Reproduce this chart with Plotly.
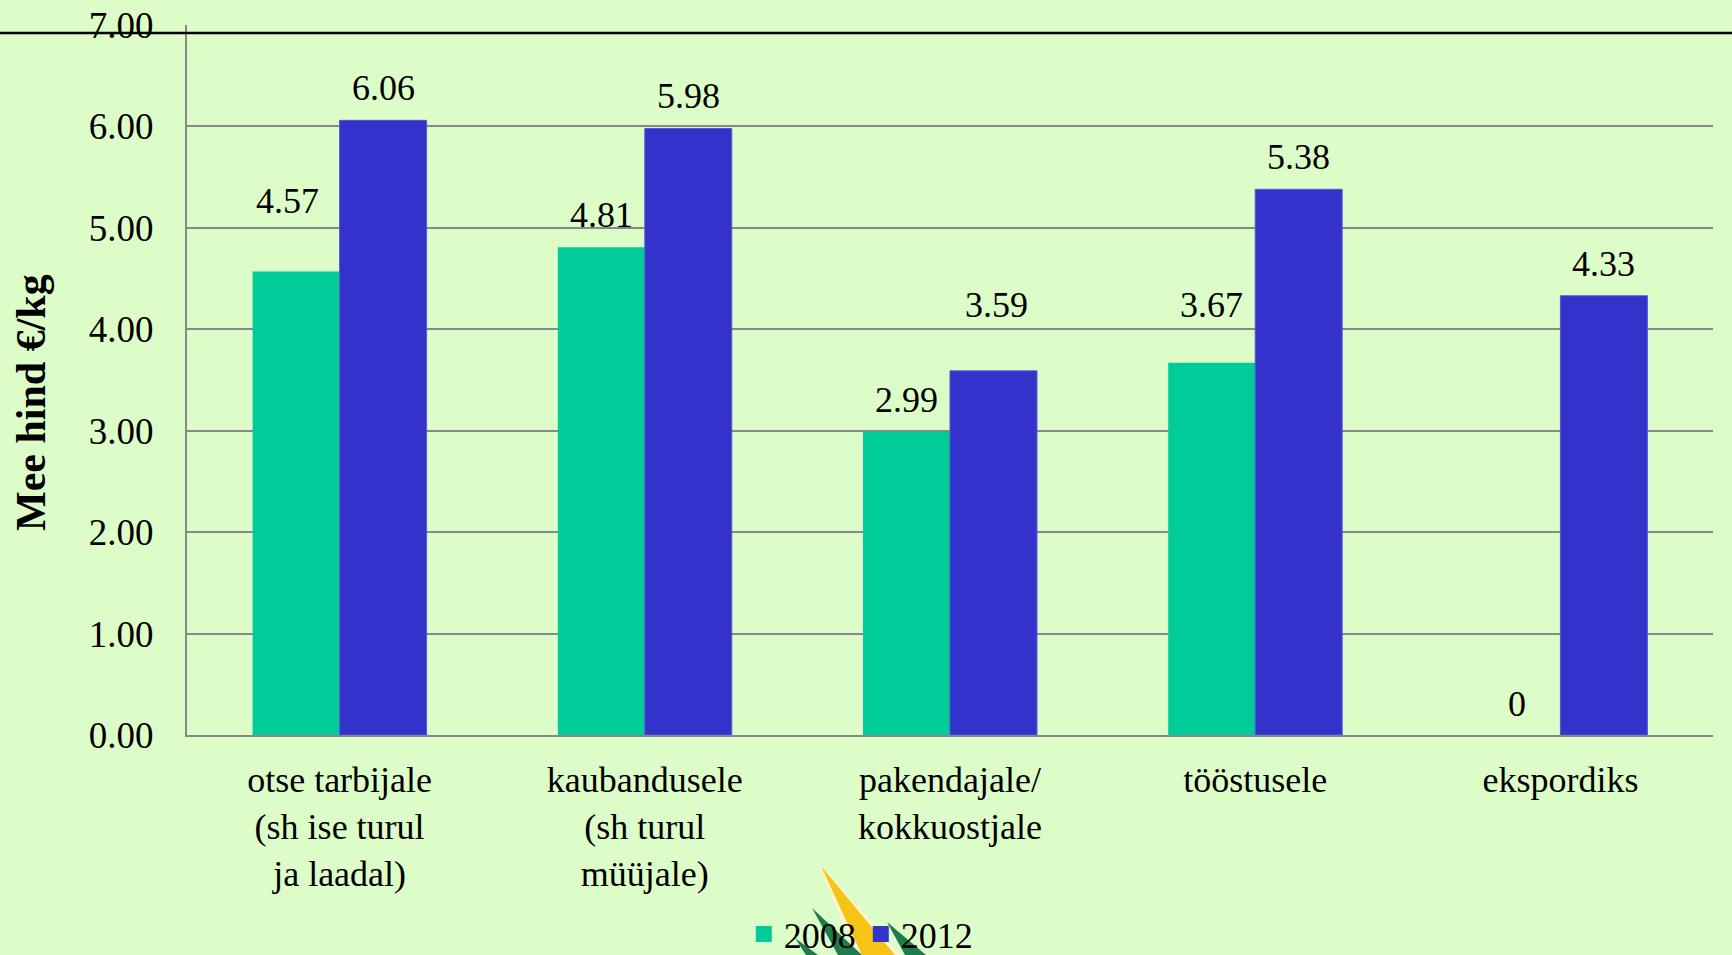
import plotly.graph_objects as go

categories = [
    "otse tarbijale<br>(sh ise turul<br>ja laadal)",
    "kaubandusele<br>(sh turul<br>müüjale)",
    "pakendajale/<br>kokkuostjale",
    "tööstusele",
    "ekspordiks",
]
values_2008 = [4.57, 4.81, 2.99, 3.67, 0]
values_2012 = [6.06, 5.98, 3.59, 5.38, 4.33]
labels_2008 = ["4.57", "4.81", "2.99", "3.67", "0"]
labels_2012 = ["6.06", "5.98", "3.59", "5.38", "4.33"]
tick_vals = [0, 1, 2, 3, 4, 5, 6, 7]

# label offsets (px) as placed in the original chart
lift_2008 = [70, 32, 32, 58, 31]
lift_2012 = [32, 32, 66, 32, 32]
nudge_2008 = [-9, 0, 0, 0, 0]
nudge_2012 = [0, 0, 3, 0, 0]

GREEN = "#00CC99"
BLUE = "#3333CC"
BG = "#DDFDC8"
FONT = "Liberation Serif"

W, H = 1732, 955
L, R, T, B = 187, 19, 25, 220
PW, PH = W - L - R, H - T - B

fig = go.Figure()
fig.add_trace(go.Bar(name="2008", x=categories, y=values_2008, showlegend=False,
                     legendgroup="2008",
                     marker=dict(color=GREEN, line=dict(width=0))))
fig.add_trace(go.Bar(name="2012", x=categories, y=values_2012, showlegend=False,
                     legendgroup="2012",
                     marker=dict(color=BLUE, line=dict(color="#5555DD", width=1))))
# legend entries with larger square keys
fig.add_trace(go.Scatter(name="2008", x=[None], y=[None], mode="markers", legendgroup="2008",
                         marker=dict(symbol="square", size=19, color=GREEN)))
fig.add_trace(go.Scatter(name="2012", x=[None], y=[None], mode="markers", legendgroup="2012",
                         marker=dict(symbol="square", size=19, color=BLUE)))

half = PW / len(categories) * (1 - 0.43) / 4
anns = []
for c, v, t, s, n in zip(categories, values_2008, labels_2008, lift_2008, nudge_2008):
    anns.append(dict(x=c, y=v, text=t, xref="x", yref="y", showarrow=False,
                     xshift=-half + n, yshift=s, yanchor="middle",
                     font=dict(family=FONT, size=36, color="black")))
for c, v, t, s, n in zip(categories, values_2012, labels_2012, lift_2012, nudge_2012):
    anns.append(dict(x=c, y=v, text=t, xref="x", yref="y", showarrow=False,
                     xshift=half + n, yshift=s, yanchor="middle",
                     font=dict(family=FONT, size=36, color="black")))


def px(xp):
    return (xp - L) / PW


def py(yp):
    return (H - B - yp) / PH


# y-axis title
anns.append(dict(x=px(31), y=py(403), xref="paper", yref="paper", showarrow=False,
                 text="<b>Mee hind €/kg</b>", textangle=-90,
                 xanchor="center", yanchor="middle",
                 font=dict(family=FONT, size=42, color="black")))


def poly(pts):
    return "M " + " L ".join(f"{px(a)},{py(b)}" for a, b in pts) + " Z"


shapes = [
    # black rule across the top
    dict(type="line", xref="paper", yref="paper", x0=px(0), x1=px(W),
         y0=py(33), y1=py(33), line=dict(color="black", width=2.5), layer="above"),
    # decorative logo behind the legend
    dict(type="path", xref="paper", yref="paper", path=poly([(818, 862), (900, 955), (856, 955)]),
         fillcolor="#FFF6D0", line=dict(width=0), layer="below"),
    dict(type="path", xref="paper", yref="paper", path=poly([(821, 866), (895, 955), (862, 955)]),
         fillcolor="#F7C316", line=dict(width=0), layer="below"),
    dict(type="path", xref="paper", yref="paper", path=poly([(812, 908), (862, 955), (838, 955)]),
         fillcolor="#1F7A4C", line=dict(width=0), layer="below"),
    dict(type="path", xref="paper", yref="paper", path=poly([(795, 938), (818, 955), (806, 955)]),
         fillcolor="#1F7A4C", line=dict(width=0), layer="below"),
    dict(type="path", xref="paper", yref="paper", path=poly([(887, 922), (926, 955), (905, 955)]),
         fillcolor="#1F7A4C", line=dict(width=0), layer="below"),
]

fig.update_layout(
    width=W, height=H,
    margin=dict(l=L, r=R, t=T, b=B, autoexpand=False),
    paper_bgcolor=BG, plot_bgcolor=BG,
    barmode="group", bargap=0.43, bargroupgap=0,
    font=dict(family=FONT, size=36, color="black"),
    annotations=anns,
    shapes=shapes,
    showlegend=True,
    legend=dict(orientation="h", xref="container", yref="container",
                x=0.497, xanchor="center", y=0.022, yanchor="middle",
                font=dict(family=FONT, size=36, color="black"),
                bgcolor="rgba(0,0,0,0)", itemwidth=30, tracegroupgap=0,
                itemclick=False),
    xaxis=dict(showgrid=False, showline=True, linecolor="#888888", linewidth=2,
               ticks="", tickfont=dict(family=FONT, size=36, color="black"),
               ticklabelstandoff=12, automargin=False),
    yaxis=dict(range=[0, 7], tickvals=tick_vals, tickformat=".2f",
               showgrid=True, gridcolor="#888888", gridwidth=1.5,
               showline=True, linecolor="#888888", linewidth=2,
               zeroline=False, ticks="", ticklabelstandoff=24,
               tickfont=dict(family=FONT, size=37, color="black"),
               automargin=False),
)

fig.write_html("out.html", config={"displayModeBar": False},
               post_script="document.body.style.margin='0';document.body.style.overflow='hidden';")
